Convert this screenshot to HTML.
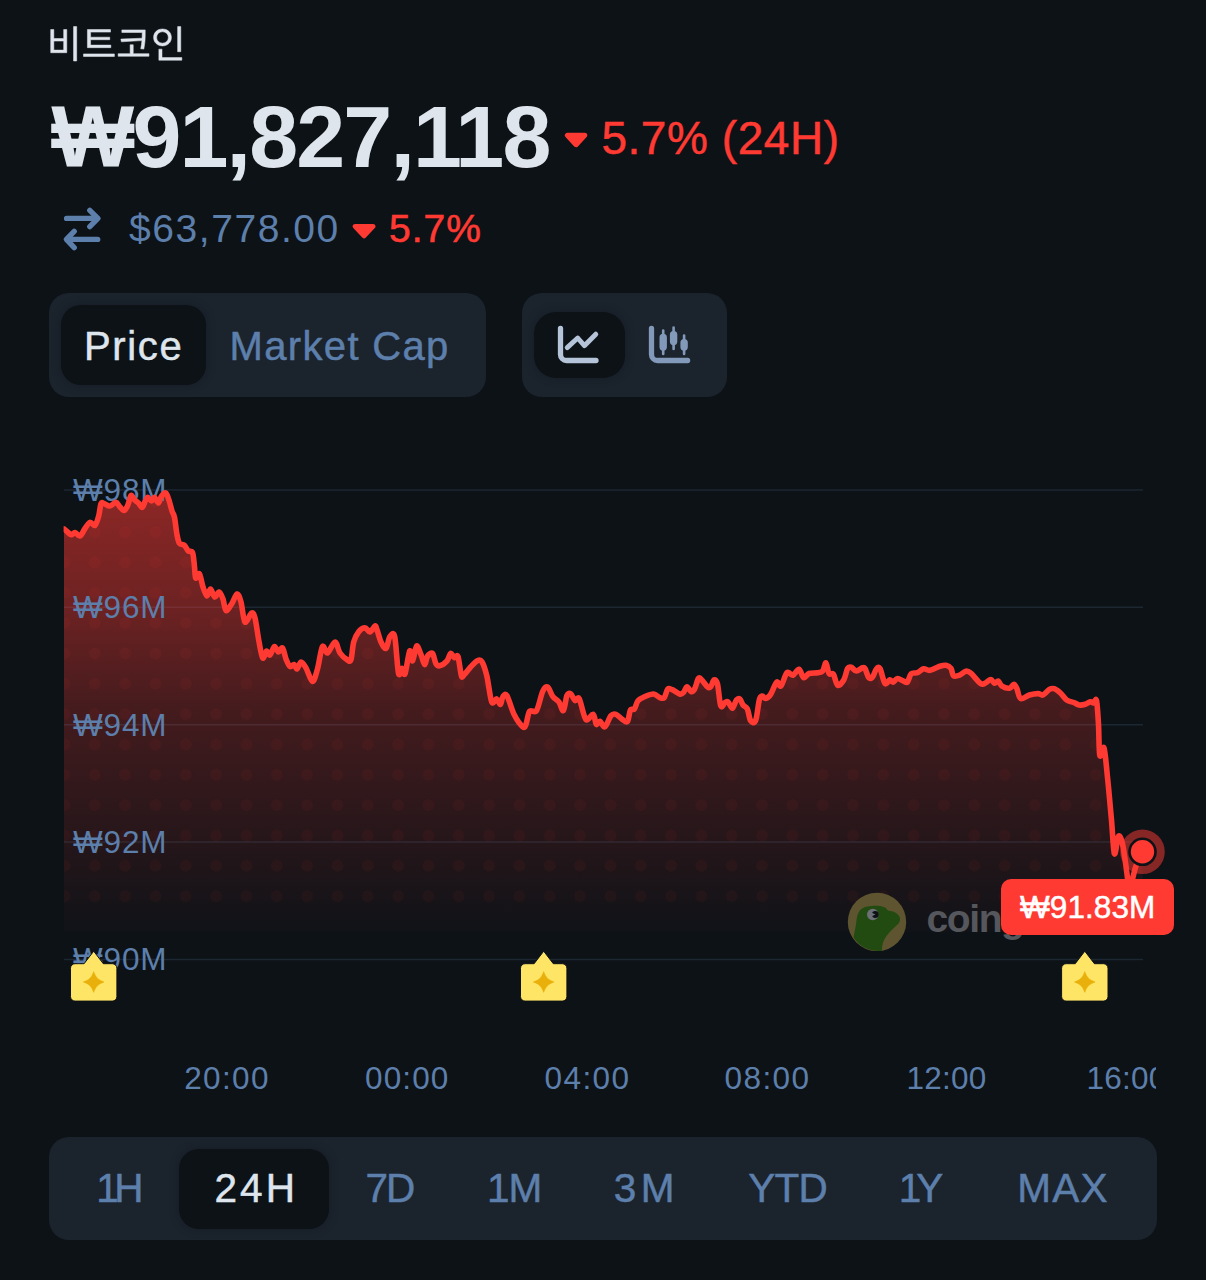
<!DOCTYPE html>
<html lang="ko"><head><meta charset="utf-8"><title>비트코인</title>
<style>
*{margin:0;padding:0;box-sizing:border-box}
html,body{width:1206px;height:1280px;overflow:hidden;background:#0D1217}
body{position:relative;font-family:"Liberation Sans",sans-serif;color:#DFE5EC}
.t{position:absolute;white-space:nowrap;line-height:1}
.abs{position:absolute;white-space:nowrap;line-height:1}
.pill{position:absolute;background:#1B232D;border-radius:20px}
.selp{position:absolute;background:#0D1217;border-radius:20px;box-shadow:0 0 10px rgba(13,18,23,.35)}
#xclip{position:absolute;left:0;top:0;width:1156px;height:1280px;overflow:hidden}
#lab{position:absolute;left:1001px;top:879px;width:173px;height:56px;border-radius:10px;background:#FF3A33;color:#fff;font-size:30px;line-height:56px;text-align:center;white-space:nowrap}
#wm{left:926.5px;top:898.5px;font-size:39px;font-weight:700;color:#55575D;letter-spacing:-1.4px}
svg{position:absolute;left:0;top:0}
</style></head><body>
<svg width="1206" height="1280" viewBox="0 0 1206 1280" aria-label="비트코인">
<defs>
<linearGradient id="ag" x1="0" y1="490" x2="0" y2="932" gradientUnits="userSpaceOnUse"><stop offset="0" stop-color="#FF3A33" stop-opacity=".53"/><stop offset=".27" stop-color="#FF3A33" stop-opacity=".395"/><stop offset=".5" stop-color="#FF3A33" stop-opacity=".228"/><stop offset="1" stop-color="#FF3A33" stop-opacity=".012"/></linearGradient>
<linearGradient id="dg" x1="0" y1="490" x2="0" y2="960" gradientUnits="userSpaceOnUse"><stop offset="0" stop-color="#FF3A33" stop-opacity=".065"/><stop offset="1" stop-color="#FF3A33" stop-opacity=".045"/></linearGradient>
<pattern id="dots" x="-11.37" y="1.43" width="30.33" height="30.33" patternUnits="userSpaceOnUse"><circle cx="15.165" cy="15.165" r="6" fill="#fff"/></pattern>
<mask id="dm"><rect x="0" y="470" width="1206" height="500" fill="url(#dots)"/></mask>
<clipPath id="lc"><rect x="63.6" y="400" width="1150" height="600"/></clipPath>
<clipPath id="ac"><path d="M64.0,529.0 C64.5,529.4 65.8,530.6 67.0,531.5 C68.2,532.4 69.9,534.5 71.2,534.7 C72.5,534.9 73.6,532.3 75.0,532.5 C76.4,532.7 78.4,536.6 80.0,536.0 C81.6,535.4 83.4,530.7 85.0,528.5 C86.6,526.3 88.4,522.8 90.0,522.3 C91.6,521.8 93.6,526.4 95.0,525.4 C96.4,524.4 97.7,519.5 98.7,516.0 C99.7,512.5 100.1,505.6 101.0,503.6 C101.9,501.6 102.9,503.2 104.3,503.6 C105.7,504.0 108.0,506.2 109.9,506.0 C111.8,505.8 114.4,502.3 116.0,502.4 C117.6,502.5 118.5,505.4 119.8,506.7 C121.1,508.0 122.9,510.8 124.2,510.5 C125.5,510.2 126.8,507.3 127.9,504.9 C129.0,502.5 129.9,496.3 131.0,495.5 C132.1,494.7 133.5,498.7 134.7,499.9 C135.9,501.1 137.3,501.8 138.5,503.0 C139.7,504.2 141.1,507.7 142.2,507.4 C143.3,507.1 144.4,502.6 145.3,501.0 C146.2,499.4 146.8,497.4 147.8,497.4 C148.8,497.4 150.4,501.0 151.5,501.0 C152.6,501.0 153.5,497.1 154.6,497.4 C155.7,497.7 157.3,503.2 158.4,503.0 C159.5,502.8 160.3,497.8 161.5,496.2 C162.7,494.6 164.6,492.4 165.8,493.0 C167.0,493.6 167.9,497.0 168.9,499.9 C169.9,502.8 171.1,508.2 172.0,511.0 C172.9,513.8 173.7,513.5 174.5,517.3 C175.3,521.1 176.2,530.5 177.0,534.7 C177.8,538.9 178.3,541.7 179.5,543.4 C180.7,545.1 183.1,544.1 184.5,545.3 C185.9,546.5 186.9,549.7 188.2,550.9 C189.5,552.1 191.6,550.4 192.6,552.8 C193.6,555.2 193.9,561.8 194.4,565.8 C194.9,569.8 194.9,576.7 195.7,578.0 C196.5,579.3 198.2,572.5 199.4,573.9 C200.6,575.3 201.8,583.5 203.0,587.0 C204.2,590.5 205.8,595.7 207.0,596.0 C208.2,596.3 209.3,588.8 210.5,589.0 C211.7,589.2 213.3,596.5 214.7,597.0 C216.1,597.5 217.7,591.7 219.0,592.0 C220.3,592.3 221.9,596.0 223.0,599.0 C224.1,602.0 224.6,609.7 226.0,610.5 C227.4,611.3 229.8,606.6 231.6,604.0 C233.4,601.4 235.5,594.3 237.0,594.0 C238.5,593.7 239.7,597.5 241.0,602.0 C242.3,606.5 243.3,620.2 245.0,622.0 C246.7,623.8 249.9,613.6 251.5,613.0 C253.1,612.4 253.8,613.4 255.0,618.0 C256.2,622.6 257.8,635.2 259.0,641.6 C260.2,648.0 261.5,656.5 262.7,658.0 C263.9,659.5 265.3,651.5 266.5,651.0 C267.7,650.5 268.7,655.7 270.0,655.0 C271.3,654.3 273.1,647.1 274.4,646.6 C275.7,646.1 277.1,651.8 278.4,652.0 C279.7,652.2 281.4,646.9 282.6,648.0 C283.8,649.1 284.8,656.0 286.0,659.0 C287.2,662.0 288.7,665.6 290.0,666.5 C291.3,667.4 292.9,664.1 294.0,664.5 C295.1,664.9 295.9,669.4 297.0,669.0 C298.1,668.6 299.6,662.2 301.0,662.0 C302.4,661.8 304.2,664.7 306.0,667.8 C307.8,670.9 310.7,681.2 312.5,681.4 C314.3,681.6 315.9,674.6 317.5,669.0 C319.1,663.4 320.8,649.2 322.4,646.6 C324.0,644.0 325.4,653.7 327.4,653.0 C329.4,652.3 333.0,642.0 335.0,642.0 C337.0,642.0 338.0,650.1 340.0,653.0 C342.0,655.9 345.7,658.9 347.5,660.0 C349.3,661.1 350.0,662.5 351.0,659.6 C352.0,656.7 352.5,646.5 353.7,642.0 C354.9,637.5 356.9,634.0 358.7,631.7 C360.5,629.4 363.2,627.8 365.0,627.8 C366.8,627.8 368.4,632.3 370.0,632.0 C371.6,631.7 373.9,626.4 375.0,626.0 C376.1,625.6 376.0,627.2 377.0,629.8 C378.0,632.4 379.6,639.0 381.0,642.0 C382.4,645.0 384.6,649.2 386.0,648.4 C387.4,647.6 388.4,638.6 389.8,636.7 C391.2,634.8 393.3,630.8 394.7,636.7 C396.1,642.6 397.3,668.2 398.5,673.3 C399.7,678.4 401.0,668.2 402.0,668.3 C403.0,668.4 403.8,676.8 405.0,674.0 C406.2,671.2 408.5,653.1 409.7,651.0 C410.9,648.9 411.5,661.6 412.6,660.8 C413.7,660.0 415.3,647.0 416.6,646.0 C417.9,645.0 419.7,651.6 421.0,654.6 C422.3,657.6 423.5,664.4 424.6,664.6 C425.7,664.8 426.3,657.8 427.6,656.0 C428.9,654.2 431.2,652.2 432.5,653.4 C433.8,654.6 434.7,661.3 435.8,663.3 C436.9,665.3 437.7,666.2 439.5,665.8 C441.3,665.4 445.2,662.8 447.0,660.8 C448.8,658.8 449.5,653.9 450.7,653.4 C451.9,652.9 453.2,657.1 454.4,657.6 C455.6,658.1 456.9,653.7 458.0,656.6 C459.1,659.5 460.4,672.9 461.4,675.8 C462.4,678.7 462.9,675.9 464.4,674.5 C465.9,673.1 468.5,669.2 470.6,667.0 C472.7,664.8 475.5,661.7 477.3,660.8 C479.1,659.9 480.3,659.2 481.8,661.6 C483.3,664.0 485.2,669.4 486.8,675.8 C488.4,682.2 490.1,698.2 491.7,701.9 C493.3,705.6 495.3,698.5 496.7,698.9 C498.1,699.3 499.4,704.8 500.4,704.4 C501.4,704.0 501.9,697.8 503.0,696.4 C504.1,695.0 505.2,692.8 507.0,695.7 C508.8,698.6 511.5,709.3 514.0,714.3 C516.5,719.3 520.9,725.2 522.8,726.8 C524.7,728.4 524.9,726.8 526.0,724.3 C527.1,721.8 527.9,713.5 529.6,711.3 C531.3,709.1 534.4,713.8 536.5,710.6 C538.6,707.4 540.9,695.2 542.7,691.4 C544.5,687.6 546.1,686.2 547.7,687.0 C549.3,687.8 550.9,694.0 552.7,696.4 C554.5,698.8 557.2,699.6 558.9,701.9 C560.6,704.2 562.1,711.6 563.4,710.6 C564.7,709.6 565.7,698.4 566.9,695.7 C568.1,693.0 569.5,693.1 570.8,693.9 C572.1,694.7 573.6,699.8 575.0,700.6 C576.4,701.4 577.6,695.9 579.3,698.9 C581.0,701.9 583.6,716.8 585.8,719.3 C588.0,721.8 591.5,713.5 593.2,714.3 C594.9,715.1 595.1,723.2 596.2,724.3 C597.3,725.4 598.6,720.9 600.0,721.3 C601.4,721.7 603.1,727.7 604.9,726.8 C606.7,725.9 609.2,717.6 611.0,715.6 C612.8,713.6 614.2,713.7 616.0,714.3 C617.8,714.9 620.5,718.1 622.3,719.3 C624.1,720.5 626.2,723.0 627.5,721.5 C628.8,720.0 629.3,712.0 630.4,710.0 C631.5,708.0 633.2,710.5 634.4,709.0 C635.6,707.5 636.3,702.8 638.0,700.8 C639.7,698.8 642.4,697.7 644.9,696.6 C647.4,695.5 651.2,693.8 653.6,694.0 C656.0,694.2 658.1,697.0 659.8,697.6 C661.5,698.2 663.0,699.0 664.3,697.6 C665.6,696.2 666.5,690.3 667.8,689.0 C669.1,687.7 670.3,688.9 672.2,689.7 C674.1,690.5 677.9,693.5 679.7,694.0 C681.5,694.5 682.2,693.8 683.4,692.6 C684.6,691.4 685.8,686.9 687.0,686.7 C688.2,686.5 689.8,691.2 691.0,691.6 C692.2,692.0 693.4,691.1 694.6,689.0 C695.8,686.9 697.3,680.0 698.4,678.5 C699.5,677.0 700.1,678.3 701.6,679.7 C703.1,681.1 706.1,685.9 707.6,687.0 C709.1,688.1 709.8,687.8 710.8,686.7 C711.8,685.6 712.9,680.4 714.0,680.0 C715.1,679.6 716.4,679.9 717.5,684.0 C718.6,688.1 719.5,702.8 720.7,705.8 C721.9,708.8 723.8,703.2 725.0,702.6 C726.2,702.0 726.8,701.1 728.0,702.0 C729.2,702.9 731.1,708.6 732.4,708.3 C733.7,708.0 735.2,701.5 736.4,700.0 C737.6,698.5 738.8,698.2 739.9,699.0 C741.0,699.8 741.8,703.4 743.0,705.0 C744.2,706.6 746.2,706.5 747.4,709.0 C748.6,711.5 749.3,718.8 750.6,720.7 C751.9,722.6 754.2,724.0 755.6,720.7 C757.0,717.4 758.2,704.0 759.3,700.0 C760.4,696.0 761.3,696.3 762.3,696.0 C763.3,695.7 764.2,698.6 765.5,698.4 C766.8,698.2 768.7,697.2 770.5,694.6 C772.3,692.0 775.0,683.6 776.7,682.2 C778.4,680.8 779.4,687.5 781.0,686.0 C782.6,684.5 785.1,674.4 787.0,672.7 C788.9,671.0 791.1,675.7 793.0,675.2 C794.9,674.7 797.3,668.9 799.0,669.3 C800.7,669.7 802.0,677.0 803.6,677.7 C805.2,678.4 806.7,674.3 809.0,673.5 C811.3,672.7 815.6,673.1 817.8,672.7 C820.0,672.3 821.4,672.6 822.7,671.0 C824.0,669.4 825.0,662.4 826.0,662.8 C827.0,663.2 827.8,671.7 829.0,673.5 C830.2,675.3 832.0,672.3 833.4,674.2 C834.8,676.1 836.0,684.3 837.7,685.2 C839.4,686.1 842.3,682.4 843.9,679.7 C845.5,677.0 846.4,670.5 847.6,668.5 C848.8,666.5 849.9,666.9 851.3,667.3 C852.7,667.7 854.5,670.9 856.3,671.0 C858.1,671.1 861.1,668.2 862.5,667.8 C863.9,667.4 864.0,666.9 865.0,668.5 C866.0,670.1 867.6,676.3 868.8,677.7 C870.0,679.1 871.3,678.5 872.5,677.2 C873.7,675.9 875.0,670.7 876.2,669.3 C877.4,667.9 878.6,666.2 880.0,668.5 C881.4,670.8 883.3,681.6 884.9,683.4 C886.5,685.2 888.6,679.9 889.9,679.7 C891.2,679.5 891.8,682.4 893.0,682.2 C894.2,682.0 895.7,678.7 897.4,678.5 C899.1,678.3 902.0,680.6 903.6,681.2 C905.2,681.8 906.3,683.2 907.5,682.0 C908.7,680.8 909.6,675.2 911.2,673.7 C912.8,672.2 915.4,673.5 917.4,672.7 C919.4,671.9 921.6,669.2 923.6,668.8 C925.6,668.4 927.3,670.7 929.9,670.3 C932.5,669.9 937.2,667.1 939.8,666.3 C942.4,665.5 944.2,665.0 946.0,665.3 C947.8,665.6 949.8,666.6 951.0,668.3 C952.2,670.0 952.1,674.6 953.5,675.7 C954.9,676.8 957.7,675.9 959.7,675.2 C961.7,674.5 964.1,671.5 965.9,671.2 C967.7,670.9 968.5,671.2 970.9,673.2 C973.3,675.2 978.4,682.2 980.8,683.7 C983.2,685.2 984.2,683.4 985.8,682.7 C987.4,682.0 989.4,679.4 990.8,679.5 C992.2,679.6 993.3,682.9 994.5,683.2 C995.7,683.5 997.1,680.7 998.3,681.2 C999.5,681.7 1000.2,685.1 1002.0,686.2 C1003.8,687.3 1007.6,688.5 1009.5,688.2 C1011.4,687.9 1012.7,684.3 1013.9,684.4 C1015.1,684.5 1015.8,686.4 1016.9,688.7 C1018.0,691.0 1018.6,697.6 1020.6,698.6 C1022.6,699.6 1026.6,695.8 1029.4,695.0 C1032.2,694.2 1035.8,693.6 1038.0,693.6 C1040.2,693.6 1041.2,695.7 1043.0,695.0 C1044.8,694.3 1047.5,690.4 1049.3,689.4 C1051.1,688.4 1052.4,688.1 1054.2,688.7 C1056.0,689.3 1058.4,691.2 1060.4,693.0 C1062.4,694.8 1064.5,698.5 1066.7,700.0 C1068.9,701.5 1072.0,701.8 1074.0,702.6 C1076.0,703.4 1077.2,704.7 1079.0,705.0 C1080.8,705.3 1083.5,704.8 1085.3,704.3 C1087.1,703.8 1089.0,702.0 1090.3,701.8 C1091.6,701.6 1092.5,703.2 1093.5,703.0 C1094.5,702.8 1095.7,697.2 1096.5,700.6 C1097.3,704.0 1098.0,715.7 1098.5,724.5 C1099.0,733.3 1098.9,751.8 1099.8,755.6 C1100.7,759.4 1102.7,744.2 1104.0,748.0 C1105.3,751.8 1106.5,767.8 1107.7,779.2 C1108.9,790.6 1110.3,807.1 1111.4,819.0 C1112.5,830.9 1113.3,851.0 1114.4,853.8 C1115.5,856.6 1117.2,838.4 1118.4,836.4 C1119.6,834.4 1120.8,837.8 1121.9,841.4 C1123.0,845.0 1124.1,852.8 1125.0,858.8 C1125.9,864.8 1126.9,873.4 1127.6,878.7 C1128.3,884.0 1128.8,892.0 1129.6,892.0 C1130.4,892.0 1131.5,883.0 1132.6,878.7 C1133.7,874.4 1134.7,869.3 1136.3,865.0 C1137.9,860.7 1141.5,853.9 1142.5,851.8 L1142.5,932 L64.0,932 Z"/></clipPath>
</defs>
<g transform="translate(46.9,58) scale(0.0377,0.038)" fill="#DFE5EC" stroke="#DFE5EC" stroke-width="14"><path d="M707 -827V79H790V-827ZM101 -750V-139H527V-750H445V-512H184V-750ZM184 -446H445V-208H184Z M970 -108V-39H1790V-108ZM1075 -749V-272H1696V-339H1159V-481H1667V-548H1159V-681H1687V-749Z M1988 -739V-671H2527V-653C2527 -612 2527 -569 2525 -521L1962 -498L1975 -426L2521 -458C2516 -395 2506 -324 2489 -243L2571 -234C2609 -419 2608 -543 2608 -653V-739ZM2208 -348V-114H1890V-45H2707V-114H2290V-348Z M3468 -826V-166H3551V-826ZM3066 -763C2932 -763 2830 -671 2830 -541C2830 -410 2932 -318 3066 -318C3201 -318 3302 -410 3302 -541C3302 -671 3201 -763 3066 -763ZM3066 -691C3154 -691 3221 -629 3221 -541C3221 -452 3154 -391 3066 -391C2978 -391 2911 -452 2911 -541C2911 -629 2978 -691 3066 -691ZM2970 -233V58H3579V-10H3053V-233Z"/></g>
<line x1="64" x2="1143" y1="489.9" y2="489.9" stroke="#1C2732" stroke-width="1.5"/><line x1="64" x2="1143" y1="607.3" y2="607.3" stroke="#1C2732" stroke-width="1.5"/><line x1="64" x2="1143" y1="724.7" y2="724.7" stroke="#1C2732" stroke-width="1.5"/><line x1="64" x2="1143" y1="842.1" y2="842.1" stroke="#1C2732" stroke-width="1.5"/><line x1="64" x2="1143" y1="959.5" y2="959.5" stroke="#1C2732" stroke-width="1.5"/>
<path d="M64.0,529.0 C64.5,529.4 65.8,530.6 67.0,531.5 C68.2,532.4 69.9,534.5 71.2,534.7 C72.5,534.9 73.6,532.3 75.0,532.5 C76.4,532.7 78.4,536.6 80.0,536.0 C81.6,535.4 83.4,530.7 85.0,528.5 C86.6,526.3 88.4,522.8 90.0,522.3 C91.6,521.8 93.6,526.4 95.0,525.4 C96.4,524.4 97.7,519.5 98.7,516.0 C99.7,512.5 100.1,505.6 101.0,503.6 C101.9,501.6 102.9,503.2 104.3,503.6 C105.7,504.0 108.0,506.2 109.9,506.0 C111.8,505.8 114.4,502.3 116.0,502.4 C117.6,502.5 118.5,505.4 119.8,506.7 C121.1,508.0 122.9,510.8 124.2,510.5 C125.5,510.2 126.8,507.3 127.9,504.9 C129.0,502.5 129.9,496.3 131.0,495.5 C132.1,494.7 133.5,498.7 134.7,499.9 C135.9,501.1 137.3,501.8 138.5,503.0 C139.7,504.2 141.1,507.7 142.2,507.4 C143.3,507.1 144.4,502.6 145.3,501.0 C146.2,499.4 146.8,497.4 147.8,497.4 C148.8,497.4 150.4,501.0 151.5,501.0 C152.6,501.0 153.5,497.1 154.6,497.4 C155.7,497.7 157.3,503.2 158.4,503.0 C159.5,502.8 160.3,497.8 161.5,496.2 C162.7,494.6 164.6,492.4 165.8,493.0 C167.0,493.6 167.9,497.0 168.9,499.9 C169.9,502.8 171.1,508.2 172.0,511.0 C172.9,513.8 173.7,513.5 174.5,517.3 C175.3,521.1 176.2,530.5 177.0,534.7 C177.8,538.9 178.3,541.7 179.5,543.4 C180.7,545.1 183.1,544.1 184.5,545.3 C185.9,546.5 186.9,549.7 188.2,550.9 C189.5,552.1 191.6,550.4 192.6,552.8 C193.6,555.2 193.9,561.8 194.4,565.8 C194.9,569.8 194.9,576.7 195.7,578.0 C196.5,579.3 198.2,572.5 199.4,573.9 C200.6,575.3 201.8,583.5 203.0,587.0 C204.2,590.5 205.8,595.7 207.0,596.0 C208.2,596.3 209.3,588.8 210.5,589.0 C211.7,589.2 213.3,596.5 214.7,597.0 C216.1,597.5 217.7,591.7 219.0,592.0 C220.3,592.3 221.9,596.0 223.0,599.0 C224.1,602.0 224.6,609.7 226.0,610.5 C227.4,611.3 229.8,606.6 231.6,604.0 C233.4,601.4 235.5,594.3 237.0,594.0 C238.5,593.7 239.7,597.5 241.0,602.0 C242.3,606.5 243.3,620.2 245.0,622.0 C246.7,623.8 249.9,613.6 251.5,613.0 C253.1,612.4 253.8,613.4 255.0,618.0 C256.2,622.6 257.8,635.2 259.0,641.6 C260.2,648.0 261.5,656.5 262.7,658.0 C263.9,659.5 265.3,651.5 266.5,651.0 C267.7,650.5 268.7,655.7 270.0,655.0 C271.3,654.3 273.1,647.1 274.4,646.6 C275.7,646.1 277.1,651.8 278.4,652.0 C279.7,652.2 281.4,646.9 282.6,648.0 C283.8,649.1 284.8,656.0 286.0,659.0 C287.2,662.0 288.7,665.6 290.0,666.5 C291.3,667.4 292.9,664.1 294.0,664.5 C295.1,664.9 295.9,669.4 297.0,669.0 C298.1,668.6 299.6,662.2 301.0,662.0 C302.4,661.8 304.2,664.7 306.0,667.8 C307.8,670.9 310.7,681.2 312.5,681.4 C314.3,681.6 315.9,674.6 317.5,669.0 C319.1,663.4 320.8,649.2 322.4,646.6 C324.0,644.0 325.4,653.7 327.4,653.0 C329.4,652.3 333.0,642.0 335.0,642.0 C337.0,642.0 338.0,650.1 340.0,653.0 C342.0,655.9 345.7,658.9 347.5,660.0 C349.3,661.1 350.0,662.5 351.0,659.6 C352.0,656.7 352.5,646.5 353.7,642.0 C354.9,637.5 356.9,634.0 358.7,631.7 C360.5,629.4 363.2,627.8 365.0,627.8 C366.8,627.8 368.4,632.3 370.0,632.0 C371.6,631.7 373.9,626.4 375.0,626.0 C376.1,625.6 376.0,627.2 377.0,629.8 C378.0,632.4 379.6,639.0 381.0,642.0 C382.4,645.0 384.6,649.2 386.0,648.4 C387.4,647.6 388.4,638.6 389.8,636.7 C391.2,634.8 393.3,630.8 394.7,636.7 C396.1,642.6 397.3,668.2 398.5,673.3 C399.7,678.4 401.0,668.2 402.0,668.3 C403.0,668.4 403.8,676.8 405.0,674.0 C406.2,671.2 408.5,653.1 409.7,651.0 C410.9,648.9 411.5,661.6 412.6,660.8 C413.7,660.0 415.3,647.0 416.6,646.0 C417.9,645.0 419.7,651.6 421.0,654.6 C422.3,657.6 423.5,664.4 424.6,664.6 C425.7,664.8 426.3,657.8 427.6,656.0 C428.9,654.2 431.2,652.2 432.5,653.4 C433.8,654.6 434.7,661.3 435.8,663.3 C436.9,665.3 437.7,666.2 439.5,665.8 C441.3,665.4 445.2,662.8 447.0,660.8 C448.8,658.8 449.5,653.9 450.7,653.4 C451.9,652.9 453.2,657.1 454.4,657.6 C455.6,658.1 456.9,653.7 458.0,656.6 C459.1,659.5 460.4,672.9 461.4,675.8 C462.4,678.7 462.9,675.9 464.4,674.5 C465.9,673.1 468.5,669.2 470.6,667.0 C472.7,664.8 475.5,661.7 477.3,660.8 C479.1,659.9 480.3,659.2 481.8,661.6 C483.3,664.0 485.2,669.4 486.8,675.8 C488.4,682.2 490.1,698.2 491.7,701.9 C493.3,705.6 495.3,698.5 496.7,698.9 C498.1,699.3 499.4,704.8 500.4,704.4 C501.4,704.0 501.9,697.8 503.0,696.4 C504.1,695.0 505.2,692.8 507.0,695.7 C508.8,698.6 511.5,709.3 514.0,714.3 C516.5,719.3 520.9,725.2 522.8,726.8 C524.7,728.4 524.9,726.8 526.0,724.3 C527.1,721.8 527.9,713.5 529.6,711.3 C531.3,709.1 534.4,713.8 536.5,710.6 C538.6,707.4 540.9,695.2 542.7,691.4 C544.5,687.6 546.1,686.2 547.7,687.0 C549.3,687.8 550.9,694.0 552.7,696.4 C554.5,698.8 557.2,699.6 558.9,701.9 C560.6,704.2 562.1,711.6 563.4,710.6 C564.7,709.6 565.7,698.4 566.9,695.7 C568.1,693.0 569.5,693.1 570.8,693.9 C572.1,694.7 573.6,699.8 575.0,700.6 C576.4,701.4 577.6,695.9 579.3,698.9 C581.0,701.9 583.6,716.8 585.8,719.3 C588.0,721.8 591.5,713.5 593.2,714.3 C594.9,715.1 595.1,723.2 596.2,724.3 C597.3,725.4 598.6,720.9 600.0,721.3 C601.4,721.7 603.1,727.7 604.9,726.8 C606.7,725.9 609.2,717.6 611.0,715.6 C612.8,713.6 614.2,713.7 616.0,714.3 C617.8,714.9 620.5,718.1 622.3,719.3 C624.1,720.5 626.2,723.0 627.5,721.5 C628.8,720.0 629.3,712.0 630.4,710.0 C631.5,708.0 633.2,710.5 634.4,709.0 C635.6,707.5 636.3,702.8 638.0,700.8 C639.7,698.8 642.4,697.7 644.9,696.6 C647.4,695.5 651.2,693.8 653.6,694.0 C656.0,694.2 658.1,697.0 659.8,697.6 C661.5,698.2 663.0,699.0 664.3,697.6 C665.6,696.2 666.5,690.3 667.8,689.0 C669.1,687.7 670.3,688.9 672.2,689.7 C674.1,690.5 677.9,693.5 679.7,694.0 C681.5,694.5 682.2,693.8 683.4,692.6 C684.6,691.4 685.8,686.9 687.0,686.7 C688.2,686.5 689.8,691.2 691.0,691.6 C692.2,692.0 693.4,691.1 694.6,689.0 C695.8,686.9 697.3,680.0 698.4,678.5 C699.5,677.0 700.1,678.3 701.6,679.7 C703.1,681.1 706.1,685.9 707.6,687.0 C709.1,688.1 709.8,687.8 710.8,686.7 C711.8,685.6 712.9,680.4 714.0,680.0 C715.1,679.6 716.4,679.9 717.5,684.0 C718.6,688.1 719.5,702.8 720.7,705.8 C721.9,708.8 723.8,703.2 725.0,702.6 C726.2,702.0 726.8,701.1 728.0,702.0 C729.2,702.9 731.1,708.6 732.4,708.3 C733.7,708.0 735.2,701.5 736.4,700.0 C737.6,698.5 738.8,698.2 739.9,699.0 C741.0,699.8 741.8,703.4 743.0,705.0 C744.2,706.6 746.2,706.5 747.4,709.0 C748.6,711.5 749.3,718.8 750.6,720.7 C751.9,722.6 754.2,724.0 755.6,720.7 C757.0,717.4 758.2,704.0 759.3,700.0 C760.4,696.0 761.3,696.3 762.3,696.0 C763.3,695.7 764.2,698.6 765.5,698.4 C766.8,698.2 768.7,697.2 770.5,694.6 C772.3,692.0 775.0,683.6 776.7,682.2 C778.4,680.8 779.4,687.5 781.0,686.0 C782.6,684.5 785.1,674.4 787.0,672.7 C788.9,671.0 791.1,675.7 793.0,675.2 C794.9,674.7 797.3,668.9 799.0,669.3 C800.7,669.7 802.0,677.0 803.6,677.7 C805.2,678.4 806.7,674.3 809.0,673.5 C811.3,672.7 815.6,673.1 817.8,672.7 C820.0,672.3 821.4,672.6 822.7,671.0 C824.0,669.4 825.0,662.4 826.0,662.8 C827.0,663.2 827.8,671.7 829.0,673.5 C830.2,675.3 832.0,672.3 833.4,674.2 C834.8,676.1 836.0,684.3 837.7,685.2 C839.4,686.1 842.3,682.4 843.9,679.7 C845.5,677.0 846.4,670.5 847.6,668.5 C848.8,666.5 849.9,666.9 851.3,667.3 C852.7,667.7 854.5,670.9 856.3,671.0 C858.1,671.1 861.1,668.2 862.5,667.8 C863.9,667.4 864.0,666.9 865.0,668.5 C866.0,670.1 867.6,676.3 868.8,677.7 C870.0,679.1 871.3,678.5 872.5,677.2 C873.7,675.9 875.0,670.7 876.2,669.3 C877.4,667.9 878.6,666.2 880.0,668.5 C881.4,670.8 883.3,681.6 884.9,683.4 C886.5,685.2 888.6,679.9 889.9,679.7 C891.2,679.5 891.8,682.4 893.0,682.2 C894.2,682.0 895.7,678.7 897.4,678.5 C899.1,678.3 902.0,680.6 903.6,681.2 C905.2,681.8 906.3,683.2 907.5,682.0 C908.7,680.8 909.6,675.2 911.2,673.7 C912.8,672.2 915.4,673.5 917.4,672.7 C919.4,671.9 921.6,669.2 923.6,668.8 C925.6,668.4 927.3,670.7 929.9,670.3 C932.5,669.9 937.2,667.1 939.8,666.3 C942.4,665.5 944.2,665.0 946.0,665.3 C947.8,665.6 949.8,666.6 951.0,668.3 C952.2,670.0 952.1,674.6 953.5,675.7 C954.9,676.8 957.7,675.9 959.7,675.2 C961.7,674.5 964.1,671.5 965.9,671.2 C967.7,670.9 968.5,671.2 970.9,673.2 C973.3,675.2 978.4,682.2 980.8,683.7 C983.2,685.2 984.2,683.4 985.8,682.7 C987.4,682.0 989.4,679.4 990.8,679.5 C992.2,679.6 993.3,682.9 994.5,683.2 C995.7,683.5 997.1,680.7 998.3,681.2 C999.5,681.7 1000.2,685.1 1002.0,686.2 C1003.8,687.3 1007.6,688.5 1009.5,688.2 C1011.4,687.9 1012.7,684.3 1013.9,684.4 C1015.1,684.5 1015.8,686.4 1016.9,688.7 C1018.0,691.0 1018.6,697.6 1020.6,698.6 C1022.6,699.6 1026.6,695.8 1029.4,695.0 C1032.2,694.2 1035.8,693.6 1038.0,693.6 C1040.2,693.6 1041.2,695.7 1043.0,695.0 C1044.8,694.3 1047.5,690.4 1049.3,689.4 C1051.1,688.4 1052.4,688.1 1054.2,688.7 C1056.0,689.3 1058.4,691.2 1060.4,693.0 C1062.4,694.8 1064.5,698.5 1066.7,700.0 C1068.9,701.5 1072.0,701.8 1074.0,702.6 C1076.0,703.4 1077.2,704.7 1079.0,705.0 C1080.8,705.3 1083.5,704.8 1085.3,704.3 C1087.1,703.8 1089.0,702.0 1090.3,701.8 C1091.6,701.6 1092.5,703.2 1093.5,703.0 C1094.5,702.8 1095.7,697.2 1096.5,700.6 C1097.3,704.0 1098.0,715.7 1098.5,724.5 C1099.0,733.3 1098.9,751.8 1099.8,755.6 C1100.7,759.4 1102.7,744.2 1104.0,748.0 C1105.3,751.8 1106.5,767.8 1107.7,779.2 C1108.9,790.6 1110.3,807.1 1111.4,819.0 C1112.5,830.9 1113.3,851.0 1114.4,853.8 C1115.5,856.6 1117.2,838.4 1118.4,836.4 C1119.6,834.4 1120.8,837.8 1121.9,841.4 C1123.0,845.0 1124.1,852.8 1125.0,858.8 C1125.9,864.8 1126.9,873.4 1127.6,878.7 C1128.3,884.0 1128.8,892.0 1129.6,892.0 C1130.4,892.0 1131.5,883.0 1132.6,878.7 C1133.7,874.4 1134.7,869.3 1136.3,865.0 C1137.9,860.7 1141.5,853.9 1142.5,851.8 L1142.5,932 L64.0,932 Z" fill="url(#ag)"/>
<g clip-path="url(#ac)"><rect x="60" y="480" width="1100" height="432" fill="url(#dg)" mask="url(#dm)"/></g>
</svg>
<div class="t" style="left:51.2px;top:93.3px;font-size:88px;font-weight:700;letter-spacing:-1.85px;color:#DFE5EC;">₩91,827,118</div><div class="t" style="left:601.4px;top:115.3px;font-size:46px;font-weight:400;letter-spacing:0.56px;color:#FF3A33;-webkit-text-stroke:0.5px #FF3A33;">5.7% (24H)</div><div class="t" style="left:129.0px;top:209.2px;font-size:39px;font-weight:400;letter-spacing:1.56px;color:#5D7FAB;">$63,778.00</div><div class="t" style="left:389.0px;top:209.2px;font-size:39px;font-weight:400;letter-spacing:1.00px;color:#FF3A33;-webkit-text-stroke:0.6px #FF3A33;">5.7%</div>
<div class="pill" style="left:49px;top:293px;width:437.4px;height:103.5px"></div>
<div class="selp" style="left:61px;top:305px;width:145px;height:80px"></div>
<div class="t" style="left:84.0px;top:326.0px;font-size:40px;font-weight:400;letter-spacing:1.63px;color:#DFE5EC;-webkit-text-stroke:0.5px #DFE5EC;">Price</div><div class="t" style="left:229.6px;top:326.0px;font-size:40px;font-weight:400;letter-spacing:1.33px;color:#5D7FAB;-webkit-text-stroke:0.5px #5D7FAB;">Market Cap</div>
<div class="pill" style="left:522.3px;top:293px;width:205.2px;height:103.5px"></div>
<div class="selp" style="left:534.4px;top:312.3px;width:90.4px;height:65.6px;border-radius:22px"></div>
<div class="t" style="left:73.0px;top:474.7px;font-size:31.5px;font-weight:400;letter-spacing:0.83px;color:#5D7FAB;">₩98M</div><div class="t" style="left:73.0px;top:592.1px;font-size:31.5px;font-weight:400;letter-spacing:0.83px;color:#5D7FAB;">₩96M</div><div class="t" style="left:73.0px;top:709.5px;font-size:31.5px;font-weight:400;letter-spacing:0.83px;color:#5D7FAB;">₩94M</div><div class="t" style="left:73.0px;top:826.9px;font-size:31.5px;font-weight:400;letter-spacing:0.83px;color:#5D7FAB;">₩92M</div><div class="t" style="left:73.0px;top:944.3px;font-size:31.5px;font-weight:400;letter-spacing:0.83px;color:#5D7FAB;">₩90M</div>
<div class="abs" id="wm">coingecko</div>
<div id="xclip"><div class="t" style="left:184.2px;top:1062.8px;font-size:31.5px;font-weight:400;letter-spacing:1.38px;color:#5D7FAB;">20:00</div><div class="t" style="left:365.0px;top:1062.8px;font-size:31.5px;font-weight:400;letter-spacing:1.13px;color:#5D7FAB;">00:00</div><div class="t" style="left:544.6px;top:1062.8px;font-size:31.5px;font-weight:400;letter-spacing:1.38px;color:#5D7FAB;">04:00</div><div class="t" style="left:724.6px;top:1062.8px;font-size:31.5px;font-weight:400;letter-spacing:1.38px;color:#5D7FAB;">08:00</div><div class="t" style="left:906.4px;top:1062.8px;font-size:31.5px;font-weight:400;letter-spacing:0.25px;color:#5D7FAB;">12:00</div><div class="t" style="left:1086.4px;top:1062.8px;font-size:31.5px;font-weight:400;letter-spacing:0.25px;color:#5D7FAB;">16:00</div></div>
<div class="pill" style="left:49px;top:1137.4px;width:1108px;height:103px"></div>
<div class="selp" style="left:179.3px;top:1149px;width:149.3px;height:79.5px"></div>
<div class="t" style="left:96.2px;top:1168.2px;font-size:40.5px;font-weight:400;letter-spacing:-4.50px;color:#5D7FAB;-webkit-text-stroke:0.5px #5D7FAB;">1H</div><div class="t" style="left:214.6px;top:1168.2px;font-size:40.5px;font-weight:400;letter-spacing:3.00px;color:#DFE5EC;-webkit-text-stroke:0.5px #DFE5EC;">24H</div><div class="t" style="left:365.4px;top:1168.2px;font-size:40.5px;font-weight:400;letter-spacing:-2.00px;color:#5D7FAB;-webkit-text-stroke:0.5px #5D7FAB;">7D</div><div class="t" style="left:487.0px;top:1168.2px;font-size:40.5px;font-weight:400;letter-spacing:-1.00px;color:#5D7FAB;-webkit-text-stroke:0.5px #5D7FAB;">1M</div><div class="t" style="left:613.8px;top:1168.2px;font-size:40.5px;font-weight:400;letter-spacing:4.50px;color:#5D7FAB;-webkit-text-stroke:0.5px #5D7FAB;">3M</div><div class="t" style="left:748.2px;top:1168.2px;font-size:40.5px;font-weight:400;letter-spacing:-0.75px;color:#5D7FAB;-webkit-text-stroke:0.5px #5D7FAB;">YTD</div><div class="t" style="left:898.8px;top:1168.2px;font-size:40.5px;font-weight:400;letter-spacing:-5.00px;color:#5D7FAB;-webkit-text-stroke:0.5px #5D7FAB;">1Y</div><div class="t" style="left:1017.2px;top:1168.2px;font-size:40.5px;font-weight:400;letter-spacing:1.25px;color:#5D7FAB;-webkit-text-stroke:0.5px #5D7FAB;">MAX</div>
<svg width="1206" height="1280" viewBox="0 0 1206 1280">
<!-- change arrows -->
<path d="M567.3,135.3 H584.8 L576.05,144.7 Z" fill="#FF3A33" stroke="#FF3A33" stroke-width="5" stroke-linejoin="round"/>
<path d="M355.1,226.4 H373 L364.05,235.8 Z" fill="#FF3A33" stroke="#FF3A33" stroke-width="5" stroke-linejoin="round"/>
<!-- swap icon -->
<g fill="none" stroke="#5D7FAB" stroke-width="5.4" stroke-linecap="round" stroke-linejoin="round"><path d="M66.6,218.4 H97.6 M89.8,210.4 L97.9,218.4 L89.8,226.6"/><path d="M97.7,239.4 H66.8 M74.2,231.4 L66.4,239.4 L74.2,247.6"/></g>
<!-- line icon -->
<g fill="none" stroke="#B5C4D8" stroke-linecap="round" stroke-linejoin="round"><path d="M560.5,328.5 V354.5 a6,6 0 0 0 6,6 H596" stroke-width="5.3"/><path d="M567.2,347.6 L577.7,338 L584.4,345.7 L595.8,334.2" stroke-width="4.9"/></g>
<!-- candle icon -->
<g fill="none" stroke="#8399B9" stroke-linecap="round" stroke-linejoin="round"><path d="M651.5,328.5 V354.5 a6,6 0 0 0 6,6 H687.6" stroke-width="5.3"/><path d="M663.2,330.5 V354 M673.6,327.6 V349 M684.1,335.6 V354" stroke-width="2.6"/><path d="M663.2,337.5 V347 M673.6,334.6 V341.6 M684.1,342.6 V347" stroke-width="7.4"/></g>
<!-- watermark logo -->
<circle cx="877" cy="921.9" r="29.2" fill="#5E5530"/>
<path d="M853.6,937.4 C854.0,935.3 855.3,928.3 855.9,924.8 C856.5,921.3 856.5,918.6 857.2,916.2 C857.9,913.8 858.7,912.0 859.9,910.5 C861.1,909.0 862.6,908.0 864.5,907.2 C866.4,906.4 868.6,906.1 871.2,905.9 C873.8,905.7 877.5,905.6 879.8,905.9 C882.1,906.2 883.8,906.9 885.1,907.6 C886.4,908.3 886.5,909.5 887.8,910.2 C889.1,910.9 891.4,910.8 893.1,911.5 C894.8,912.2 896.5,913.1 897.7,914.2 C898.9,915.3 899.8,916.8 900.0,918.2 C900.2,919.6 899.9,921.2 899.0,922.8 C898.1,924.4 896.1,925.8 894.4,927.5 C892.7,929.2 890.8,930.8 889.1,932.8 C887.4,934.8 885.5,937.4 884.4,939.4 C883.3,941.4 882.9,942.8 882.5,944.7 C882.1,946.6 882.0,949.7 881.9,950.7 A29.2,29.2 0 0 1 853.6,937.4 Z" fill="#214B10"/>
<circle cx="872.8" cy="914.5" r="5.8" fill="#6E7078"/><circle cx="875.3" cy="914.5" r="3.4" fill="#0E1116"/><path d="M875.3,914.5 L871.5,912.6 L871.5,916.4 Z" fill="#6E7078"/>
<!-- price line -->
<circle cx="1142.5" cy="851.8" r="22.3" fill="#FF3A33" fill-opacity=".5"/>
<g clip-path="url(#lc)"><path d="M64.0,529.0 C64.5,529.4 65.8,530.6 67.0,531.5 C68.2,532.4 69.9,534.5 71.2,534.7 C72.5,534.9 73.6,532.3 75.0,532.5 C76.4,532.7 78.4,536.6 80.0,536.0 C81.6,535.4 83.4,530.7 85.0,528.5 C86.6,526.3 88.4,522.8 90.0,522.3 C91.6,521.8 93.6,526.4 95.0,525.4 C96.4,524.4 97.7,519.5 98.7,516.0 C99.7,512.5 100.1,505.6 101.0,503.6 C101.9,501.6 102.9,503.2 104.3,503.6 C105.7,504.0 108.0,506.2 109.9,506.0 C111.8,505.8 114.4,502.3 116.0,502.4 C117.6,502.5 118.5,505.4 119.8,506.7 C121.1,508.0 122.9,510.8 124.2,510.5 C125.5,510.2 126.8,507.3 127.9,504.9 C129.0,502.5 129.9,496.3 131.0,495.5 C132.1,494.7 133.5,498.7 134.7,499.9 C135.9,501.1 137.3,501.8 138.5,503.0 C139.7,504.2 141.1,507.7 142.2,507.4 C143.3,507.1 144.4,502.6 145.3,501.0 C146.2,499.4 146.8,497.4 147.8,497.4 C148.8,497.4 150.4,501.0 151.5,501.0 C152.6,501.0 153.5,497.1 154.6,497.4 C155.7,497.7 157.3,503.2 158.4,503.0 C159.5,502.8 160.3,497.8 161.5,496.2 C162.7,494.6 164.6,492.4 165.8,493.0 C167.0,493.6 167.9,497.0 168.9,499.9 C169.9,502.8 171.1,508.2 172.0,511.0 C172.9,513.8 173.7,513.5 174.5,517.3 C175.3,521.1 176.2,530.5 177.0,534.7 C177.8,538.9 178.3,541.7 179.5,543.4 C180.7,545.1 183.1,544.1 184.5,545.3 C185.9,546.5 186.9,549.7 188.2,550.9 C189.5,552.1 191.6,550.4 192.6,552.8 C193.6,555.2 193.9,561.8 194.4,565.8 C194.9,569.8 194.9,576.7 195.7,578.0 C196.5,579.3 198.2,572.5 199.4,573.9 C200.6,575.3 201.8,583.5 203.0,587.0 C204.2,590.5 205.8,595.7 207.0,596.0 C208.2,596.3 209.3,588.8 210.5,589.0 C211.7,589.2 213.3,596.5 214.7,597.0 C216.1,597.5 217.7,591.7 219.0,592.0 C220.3,592.3 221.9,596.0 223.0,599.0 C224.1,602.0 224.6,609.7 226.0,610.5 C227.4,611.3 229.8,606.6 231.6,604.0 C233.4,601.4 235.5,594.3 237.0,594.0 C238.5,593.7 239.7,597.5 241.0,602.0 C242.3,606.5 243.3,620.2 245.0,622.0 C246.7,623.8 249.9,613.6 251.5,613.0 C253.1,612.4 253.8,613.4 255.0,618.0 C256.2,622.6 257.8,635.2 259.0,641.6 C260.2,648.0 261.5,656.5 262.7,658.0 C263.9,659.5 265.3,651.5 266.5,651.0 C267.7,650.5 268.7,655.7 270.0,655.0 C271.3,654.3 273.1,647.1 274.4,646.6 C275.7,646.1 277.1,651.8 278.4,652.0 C279.7,652.2 281.4,646.9 282.6,648.0 C283.8,649.1 284.8,656.0 286.0,659.0 C287.2,662.0 288.7,665.6 290.0,666.5 C291.3,667.4 292.9,664.1 294.0,664.5 C295.1,664.9 295.9,669.4 297.0,669.0 C298.1,668.6 299.6,662.2 301.0,662.0 C302.4,661.8 304.2,664.7 306.0,667.8 C307.8,670.9 310.7,681.2 312.5,681.4 C314.3,681.6 315.9,674.6 317.5,669.0 C319.1,663.4 320.8,649.2 322.4,646.6 C324.0,644.0 325.4,653.7 327.4,653.0 C329.4,652.3 333.0,642.0 335.0,642.0 C337.0,642.0 338.0,650.1 340.0,653.0 C342.0,655.9 345.7,658.9 347.5,660.0 C349.3,661.1 350.0,662.5 351.0,659.6 C352.0,656.7 352.5,646.5 353.7,642.0 C354.9,637.5 356.9,634.0 358.7,631.7 C360.5,629.4 363.2,627.8 365.0,627.8 C366.8,627.8 368.4,632.3 370.0,632.0 C371.6,631.7 373.9,626.4 375.0,626.0 C376.1,625.6 376.0,627.2 377.0,629.8 C378.0,632.4 379.6,639.0 381.0,642.0 C382.4,645.0 384.6,649.2 386.0,648.4 C387.4,647.6 388.4,638.6 389.8,636.7 C391.2,634.8 393.3,630.8 394.7,636.7 C396.1,642.6 397.3,668.2 398.5,673.3 C399.7,678.4 401.0,668.2 402.0,668.3 C403.0,668.4 403.8,676.8 405.0,674.0 C406.2,671.2 408.5,653.1 409.7,651.0 C410.9,648.9 411.5,661.6 412.6,660.8 C413.7,660.0 415.3,647.0 416.6,646.0 C417.9,645.0 419.7,651.6 421.0,654.6 C422.3,657.6 423.5,664.4 424.6,664.6 C425.7,664.8 426.3,657.8 427.6,656.0 C428.9,654.2 431.2,652.2 432.5,653.4 C433.8,654.6 434.7,661.3 435.8,663.3 C436.9,665.3 437.7,666.2 439.5,665.8 C441.3,665.4 445.2,662.8 447.0,660.8 C448.8,658.8 449.5,653.9 450.7,653.4 C451.9,652.9 453.2,657.1 454.4,657.6 C455.6,658.1 456.9,653.7 458.0,656.6 C459.1,659.5 460.4,672.9 461.4,675.8 C462.4,678.7 462.9,675.9 464.4,674.5 C465.9,673.1 468.5,669.2 470.6,667.0 C472.7,664.8 475.5,661.7 477.3,660.8 C479.1,659.9 480.3,659.2 481.8,661.6 C483.3,664.0 485.2,669.4 486.8,675.8 C488.4,682.2 490.1,698.2 491.7,701.9 C493.3,705.6 495.3,698.5 496.7,698.9 C498.1,699.3 499.4,704.8 500.4,704.4 C501.4,704.0 501.9,697.8 503.0,696.4 C504.1,695.0 505.2,692.8 507.0,695.7 C508.8,698.6 511.5,709.3 514.0,714.3 C516.5,719.3 520.9,725.2 522.8,726.8 C524.7,728.4 524.9,726.8 526.0,724.3 C527.1,721.8 527.9,713.5 529.6,711.3 C531.3,709.1 534.4,713.8 536.5,710.6 C538.6,707.4 540.9,695.2 542.7,691.4 C544.5,687.6 546.1,686.2 547.7,687.0 C549.3,687.8 550.9,694.0 552.7,696.4 C554.5,698.8 557.2,699.6 558.9,701.9 C560.6,704.2 562.1,711.6 563.4,710.6 C564.7,709.6 565.7,698.4 566.9,695.7 C568.1,693.0 569.5,693.1 570.8,693.9 C572.1,694.7 573.6,699.8 575.0,700.6 C576.4,701.4 577.6,695.9 579.3,698.9 C581.0,701.9 583.6,716.8 585.8,719.3 C588.0,721.8 591.5,713.5 593.2,714.3 C594.9,715.1 595.1,723.2 596.2,724.3 C597.3,725.4 598.6,720.9 600.0,721.3 C601.4,721.7 603.1,727.7 604.9,726.8 C606.7,725.9 609.2,717.6 611.0,715.6 C612.8,713.6 614.2,713.7 616.0,714.3 C617.8,714.9 620.5,718.1 622.3,719.3 C624.1,720.5 626.2,723.0 627.5,721.5 C628.8,720.0 629.3,712.0 630.4,710.0 C631.5,708.0 633.2,710.5 634.4,709.0 C635.6,707.5 636.3,702.8 638.0,700.8 C639.7,698.8 642.4,697.7 644.9,696.6 C647.4,695.5 651.2,693.8 653.6,694.0 C656.0,694.2 658.1,697.0 659.8,697.6 C661.5,698.2 663.0,699.0 664.3,697.6 C665.6,696.2 666.5,690.3 667.8,689.0 C669.1,687.7 670.3,688.9 672.2,689.7 C674.1,690.5 677.9,693.5 679.7,694.0 C681.5,694.5 682.2,693.8 683.4,692.6 C684.6,691.4 685.8,686.9 687.0,686.7 C688.2,686.5 689.8,691.2 691.0,691.6 C692.2,692.0 693.4,691.1 694.6,689.0 C695.8,686.9 697.3,680.0 698.4,678.5 C699.5,677.0 700.1,678.3 701.6,679.7 C703.1,681.1 706.1,685.9 707.6,687.0 C709.1,688.1 709.8,687.8 710.8,686.7 C711.8,685.6 712.9,680.4 714.0,680.0 C715.1,679.6 716.4,679.9 717.5,684.0 C718.6,688.1 719.5,702.8 720.7,705.8 C721.9,708.8 723.8,703.2 725.0,702.6 C726.2,702.0 726.8,701.1 728.0,702.0 C729.2,702.9 731.1,708.6 732.4,708.3 C733.7,708.0 735.2,701.5 736.4,700.0 C737.6,698.5 738.8,698.2 739.9,699.0 C741.0,699.8 741.8,703.4 743.0,705.0 C744.2,706.6 746.2,706.5 747.4,709.0 C748.6,711.5 749.3,718.8 750.6,720.7 C751.9,722.6 754.2,724.0 755.6,720.7 C757.0,717.4 758.2,704.0 759.3,700.0 C760.4,696.0 761.3,696.3 762.3,696.0 C763.3,695.7 764.2,698.6 765.5,698.4 C766.8,698.2 768.7,697.2 770.5,694.6 C772.3,692.0 775.0,683.6 776.7,682.2 C778.4,680.8 779.4,687.5 781.0,686.0 C782.6,684.5 785.1,674.4 787.0,672.7 C788.9,671.0 791.1,675.7 793.0,675.2 C794.9,674.7 797.3,668.9 799.0,669.3 C800.7,669.7 802.0,677.0 803.6,677.7 C805.2,678.4 806.7,674.3 809.0,673.5 C811.3,672.7 815.6,673.1 817.8,672.7 C820.0,672.3 821.4,672.6 822.7,671.0 C824.0,669.4 825.0,662.4 826.0,662.8 C827.0,663.2 827.8,671.7 829.0,673.5 C830.2,675.3 832.0,672.3 833.4,674.2 C834.8,676.1 836.0,684.3 837.7,685.2 C839.4,686.1 842.3,682.4 843.9,679.7 C845.5,677.0 846.4,670.5 847.6,668.5 C848.8,666.5 849.9,666.9 851.3,667.3 C852.7,667.7 854.5,670.9 856.3,671.0 C858.1,671.1 861.1,668.2 862.5,667.8 C863.9,667.4 864.0,666.9 865.0,668.5 C866.0,670.1 867.6,676.3 868.8,677.7 C870.0,679.1 871.3,678.5 872.5,677.2 C873.7,675.9 875.0,670.7 876.2,669.3 C877.4,667.9 878.6,666.2 880.0,668.5 C881.4,670.8 883.3,681.6 884.9,683.4 C886.5,685.2 888.6,679.9 889.9,679.7 C891.2,679.5 891.8,682.4 893.0,682.2 C894.2,682.0 895.7,678.7 897.4,678.5 C899.1,678.3 902.0,680.6 903.6,681.2 C905.2,681.8 906.3,683.2 907.5,682.0 C908.7,680.8 909.6,675.2 911.2,673.7 C912.8,672.2 915.4,673.5 917.4,672.7 C919.4,671.9 921.6,669.2 923.6,668.8 C925.6,668.4 927.3,670.7 929.9,670.3 C932.5,669.9 937.2,667.1 939.8,666.3 C942.4,665.5 944.2,665.0 946.0,665.3 C947.8,665.6 949.8,666.6 951.0,668.3 C952.2,670.0 952.1,674.6 953.5,675.7 C954.9,676.8 957.7,675.9 959.7,675.2 C961.7,674.5 964.1,671.5 965.9,671.2 C967.7,670.9 968.5,671.2 970.9,673.2 C973.3,675.2 978.4,682.2 980.8,683.7 C983.2,685.2 984.2,683.4 985.8,682.7 C987.4,682.0 989.4,679.4 990.8,679.5 C992.2,679.6 993.3,682.9 994.5,683.2 C995.7,683.5 997.1,680.7 998.3,681.2 C999.5,681.7 1000.2,685.1 1002.0,686.2 C1003.8,687.3 1007.6,688.5 1009.5,688.2 C1011.4,687.9 1012.7,684.3 1013.9,684.4 C1015.1,684.5 1015.8,686.4 1016.9,688.7 C1018.0,691.0 1018.6,697.6 1020.6,698.6 C1022.6,699.6 1026.6,695.8 1029.4,695.0 C1032.2,694.2 1035.8,693.6 1038.0,693.6 C1040.2,693.6 1041.2,695.7 1043.0,695.0 C1044.8,694.3 1047.5,690.4 1049.3,689.4 C1051.1,688.4 1052.4,688.1 1054.2,688.7 C1056.0,689.3 1058.4,691.2 1060.4,693.0 C1062.4,694.8 1064.5,698.5 1066.7,700.0 C1068.9,701.5 1072.0,701.8 1074.0,702.6 C1076.0,703.4 1077.2,704.7 1079.0,705.0 C1080.8,705.3 1083.5,704.8 1085.3,704.3 C1087.1,703.8 1089.0,702.0 1090.3,701.8 C1091.6,701.6 1092.5,703.2 1093.5,703.0 C1094.5,702.8 1095.7,697.2 1096.5,700.6 C1097.3,704.0 1098.0,715.7 1098.5,724.5 C1099.0,733.3 1098.9,751.8 1099.8,755.6 C1100.7,759.4 1102.7,744.2 1104.0,748.0 C1105.3,751.8 1106.5,767.8 1107.7,779.2 C1108.9,790.6 1110.3,807.1 1111.4,819.0 C1112.5,830.9 1113.3,851.0 1114.4,853.8 C1115.5,856.6 1117.2,838.4 1118.4,836.4 C1119.6,834.4 1120.8,837.8 1121.9,841.4 C1123.0,845.0 1124.1,852.8 1125.0,858.8 C1125.9,864.8 1126.9,873.4 1127.6,878.7 C1128.3,884.0 1128.8,892.0 1129.6,892.0 C1130.4,892.0 1131.5,883.0 1132.6,878.7 C1133.7,874.4 1134.7,869.3 1136.3,865.0 C1137.9,860.7 1141.5,853.9 1142.5,851.8" fill="none" stroke="#FF3A33" stroke-width="5.6" stroke-linejoin="round" stroke-linecap="round"/></g>
<circle cx="1142.5" cy="851.8" r="13" fill="#FF3A33" stroke="#0D1217" stroke-width="2.6"/>
<g transform="translate(93.7,0)"><path d="M-18.6,963.7 H-9.6 L0,951.2 L9.6,963.7 H18.6 a4.6,4.6 0 0 1 4.6,4.6 V996.5 a4.6,4.6 0 0 1 -4.6,4.6 H-18.6 a4.6,4.6 0 0 1 -4.6,-4.6 V968.3 a4.6,4.6 0 0 1 4.6,-4.6 Z" fill="#FFE566" stroke="#0D1217" stroke-width="1"/><path d="M0,971.6 C2.4,977.8 4.2,979.6 10.4,982 C4.2,984.4 2.4,986.2 0,992.4 C-2.4,986.2 -4.2,984.4 -10.4,982 C-4.2,979.6 -2.4,977.8 0,971.6 Z" fill="#E9B00B" stroke="#E9B00B" stroke-width="0.5" stroke-linejoin="round"/></g><g transform="translate(543.7,0)"><path d="M-18.6,963.7 H-9.6 L0,951.2 L9.6,963.7 H18.6 a4.6,4.6 0 0 1 4.6,4.6 V996.5 a4.6,4.6 0 0 1 -4.6,4.6 H-18.6 a4.6,4.6 0 0 1 -4.6,-4.6 V968.3 a4.6,4.6 0 0 1 4.6,-4.6 Z" fill="#FFE566" stroke="#0D1217" stroke-width="1"/><path d="M0,971.6 C2.4,977.8 4.2,979.6 10.4,982 C4.2,984.4 2.4,986.2 0,992.4 C-2.4,986.2 -4.2,984.4 -10.4,982 C-4.2,979.6 -2.4,977.8 0,971.6 Z" fill="#E9B00B" stroke="#E9B00B" stroke-width="0.5" stroke-linejoin="round"/></g><g transform="translate(1084.8,0)"><path d="M-18.6,963.7 H-9.6 L0,951.2 L9.6,963.7 H18.6 a4.6,4.6 0 0 1 4.6,4.6 V996.5 a4.6,4.6 0 0 1 -4.6,4.6 H-18.6 a4.6,4.6 0 0 1 -4.6,-4.6 V968.3 a4.6,4.6 0 0 1 4.6,-4.6 Z" fill="#FFE566" stroke="#0D1217" stroke-width="1"/><path d="M0,971.6 C2.4,977.8 4.2,979.6 10.4,982 C4.2,984.4 2.4,986.2 0,992.4 C-2.4,986.2 -4.2,984.4 -10.4,982 C-4.2,979.6 -2.4,977.8 0,971.6 Z" fill="#E9B00B" stroke="#E9B00B" stroke-width="0.5" stroke-linejoin="round"/></g>
</svg>
<div id="lab"></div><div class="t" style="left:1020.0px;top:891.6px;font-size:31.5px;font-weight:400;letter-spacing:0.08px;color:#FFFFFF;-webkit-text-stroke:0.5px #FFFFFF;">₩91.83M</div>
</body></html>
